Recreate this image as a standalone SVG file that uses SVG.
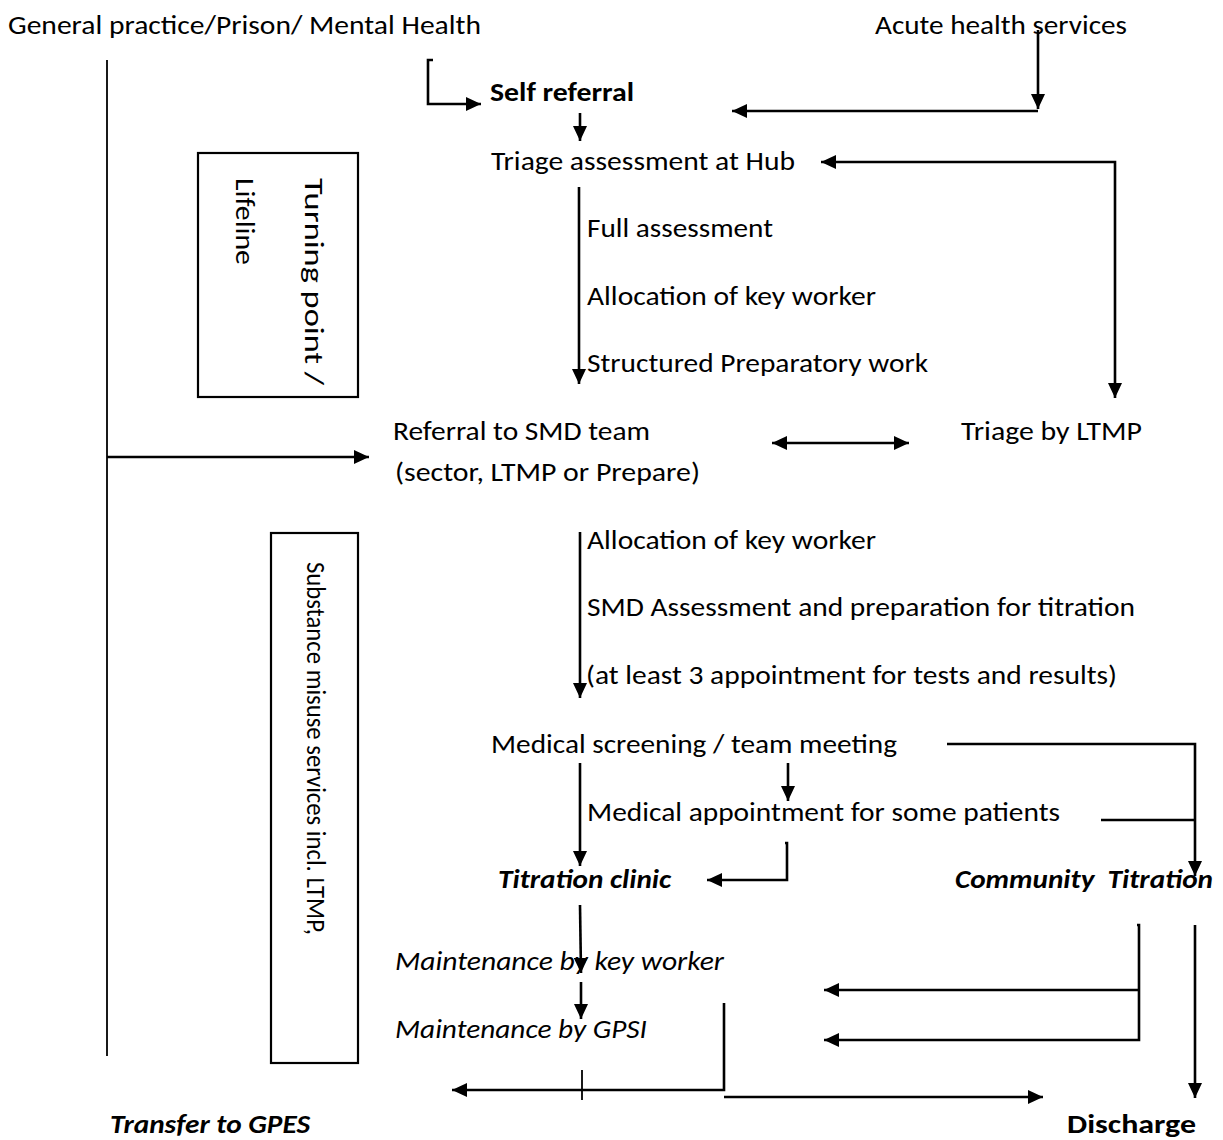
<svg xmlns="http://www.w3.org/2000/svg" width="1223" height="1140" viewBox="0 0 1223 1140">
  <style>
    text { font-family: Carlito, Lato, "Liberation Sans", sans-serif; font-size: 26px; fill: #000; }
    .b { font-weight: bold; }
    .i { font-style: italic; }
    .bi { font-weight: bold; font-style: italic; }
    .ln { fill: none; stroke: #000; stroke-width: 2.6; }
    .thin { fill: none; stroke: #000; stroke-width: 1.8; }
    .box { fill: #fff; stroke: #000; stroke-width: 2.2; }
  </style>
  <defs>
    <!-- filled arrowhead, tip at the path end -->
    <marker id="ah" viewBox="0 0 15 14" markerWidth="15" markerHeight="14" refX="15" refY="7" orient="auto-start-reverse" markerUnits="userSpaceOnUse">
      <path d="M0,0 L15,7 L0,14 z" fill="#000"/>
    </marker>
  </defs>

  <rect width="1223" height="1140" fill="#fff"/>

  <!-- connectors -->
  <g id="connectors">
    <path class="thin" d="M107,60 V1056"/>
    <path class="ln" d="M433,60 H428 V104 H481" marker-end="url(#ah)"/>
    <path class="ln" d="M580,113 V141" marker-end="url(#ah)"/>
    <path class="ln" d="M1038,30 V109" marker-end="url(#ah)"/>
    <path class="ln" d="M1038,111 H732" marker-end="url(#ah)"/>
    <path class="ln" d="M821,162 H1115 V398" marker-start="url(#ah)" marker-end="url(#ah)"/>
    <path class="ln" d="M579,187 V384" marker-end="url(#ah)"/>
    <path class="ln" d="M107,457 H369" marker-end="url(#ah)"/>
    <path class="ln" d="M772,443 H909" marker-start="url(#ah)" marker-end="url(#ah)"/>
    <path class="ln" d="M580,532 V698" marker-end="url(#ah)"/>
    <path class="ln" d="M947,744 H1195 V876" marker-end="url(#ah)"/>
    <path class="ln" d="M1101,820 H1195"/>
    <path class="ln" d="M580,763 V866" marker-end="url(#ah)"/>
    <path class="ln" d="M788,763 V801" marker-end="url(#ah)"/>
    <path class="ln" d="M785,843 H787 V880 H707" marker-end="url(#ah)"/>
    <path class="ln" d="M580,905 L581,973" marker-end="url(#ah)"/>
    <path class="ln" d="M1137,925 H1139 V1040 H824" marker-end="url(#ah)"/>
    <path class="ln" d="M1139,990 H824" marker-end="url(#ah)"/>
    <path class="ln" d="M1195,925 V1098" marker-end="url(#ah)"/>
    <path class="ln" d="M581,982 V1019" marker-end="url(#ah)"/>
    <path class="thin" d="M582,1070 V1100"/>
    <path class="ln" d="M724,1003 V1090 H452" marker-end="url(#ah)"/>
    <path class="ln" d="M724,1097 H1043" marker-end="url(#ah)"/>
  </g>

  <!-- source labels -->
  <g id="gp-prison-mh"><text x="8" y="34" textLength="473" lengthAdjust="spacingAndGlyphs">General practice/Prison/ Mental Health</text></g>
  <g id="acute"><text x="875" y="34" textLength="252" lengthAdjust="spacingAndGlyphs">Acute health services</text></g>

  <!-- side boxes -->
  <g id="turning-point">
    <rect class="box" x="198" y="153" width="160" height="244"/>
    <text transform="translate(305,178) rotate(90)" textLength="207" lengthAdjust="spacingAndGlyphs">Turning point /</text>
    <text transform="translate(236,178) rotate(90)" textLength="87" lengthAdjust="spacingAndGlyphs">Lifeline</text>
  </g>
  <g id="substance-misuse">
    <rect class="box" x="271" y="533" width="87" height="530"/>
    <text transform="translate(307,562) rotate(90)" textLength="373" lengthAdjust="spacingAndGlyphs">Substance misuse services incl. LTMP,</text>
  </g>

  <!-- pathway steps -->
  <g id="self-referral"><text class="b" x="490" y="101" textLength="144" lengthAdjust="spacingAndGlyphs">Self referral</text></g>
  <g id="triage-hub"><text x="491" y="170" textLength="304" lengthAdjust="spacingAndGlyphs">Triage assessment at Hub</text></g>
  <g id="hub-steps">
    <text x="587" y="237" textLength="186" lengthAdjust="spacingAndGlyphs">Full assessment</text>
    <text x="587" y="305" textLength="289" lengthAdjust="spacingAndGlyphs">Allocation of key worker</text>
    <text x="587" y="372" textLength="341" lengthAdjust="spacingAndGlyphs">Structured Preparatory work</text>
  </g>
  <g id="referral-smd">
    <text x="393" y="440" textLength="257" lengthAdjust="spacingAndGlyphs">Referral to SMD team</text>
    <text x="395" y="481" textLength="305" lengthAdjust="spacingAndGlyphs">(sector, LTMP or Prepare)</text>
  </g>
  <g id="triage-ltmp"><text x="961" y="440" textLength="181" lengthAdjust="spacingAndGlyphs">Triage by LTMP</text></g>
  <g id="smd-steps">
    <text x="587" y="549" textLength="289" lengthAdjust="spacingAndGlyphs">Allocation of key worker</text>
    <text x="587" y="616" textLength="548" lengthAdjust="spacingAndGlyphs">SMD Assessment and preparation for titration</text>
    <text x="586" y="684" textLength="531" lengthAdjust="spacingAndGlyphs">(at least 3 appointment for tests and results)</text>
  </g>
  <g id="medical-screening"><text x="491" y="753" textLength="406" lengthAdjust="spacingAndGlyphs">Medical screening / team meeting</text></g>
  <g id="medical-appointment"><text x="587" y="821" textLength="473" lengthAdjust="spacingAndGlyphs">Medical appointment for some patients</text></g>
  <g id="titration-clinic"><text class="bi" x="498" y="888" textLength="173" lengthAdjust="spacingAndGlyphs">Titration clinic</text></g>
  <g id="community-titration"><text class="bi" x="955" y="888" textLength="258" lengthAdjust="spacingAndGlyphs" xml:space="preserve">Community  Titration</text></g>
  <g id="maint-key-worker"><text class="i" x="395" y="970" textLength="329" lengthAdjust="spacingAndGlyphs">Maintenance by key worker</text></g>
  <g id="maint-gpsi"><text class="i" x="395" y="1038" textLength="252" lengthAdjust="spacingAndGlyphs">Maintenance by GPSI</text></g>
  <g id="transfer-gpes"><text class="bi" x="110" y="1133" textLength="200" lengthAdjust="spacingAndGlyphs">Transfer to GPES</text></g>
  <g id="discharge"><text class="b" x="1067" y="1133" textLength="129" lengthAdjust="spacingAndGlyphs">Discharge</text></g>
</svg>
